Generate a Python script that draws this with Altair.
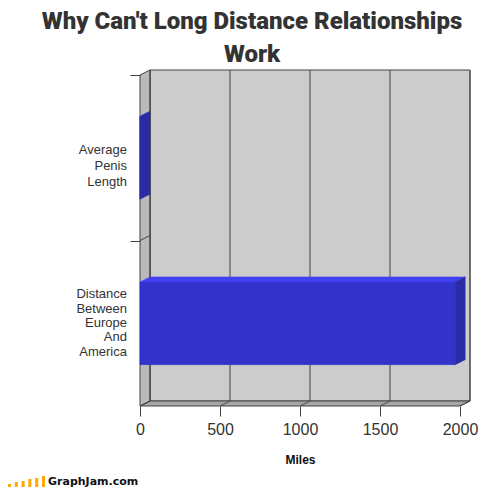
import altair as alt
import pandas as pd

# ---------------- data ----------------
categories = ["Average Penis Length", "Distance Between Europe And America"]
miles = [0.0001, 1970]
tick_values = [0, 500, 1000, 1500, 2000]
chart_title = ["Why Can't Long Distance Relationships", "Work"]
x_title = "Miles"
logo_text = "GraphJam.com"
logo_heights = [3, 5, 6, 8, 9, 11]

# ---------------- geometry / style ----------------
FRONT_W = 320          # px of the front plane for the axis range
BAND_PX = 165.5        # px per category band
DEPTH_X = 10           # px of 3-D depth, horizontal
DEPTH_Y = 5            # px of 3-D depth, vertical
AX_MAX = tick_values[-1]
MPP = AX_MAX / FRONT_W             # miles per px
S = DEPTH_X * MPP                  # depth in miles
D = DEPTH_Y / BAND_PX              # depth in band units
NB = len(categories)
W = FRONT_W + DEPTH_X
H = NB * BAND_PX + DEPTH_Y
PAD = {"left": 132, "top": 62, "right": 20, "bottom": 82}
LOGO_BASE = H + PAD["bottom"] - 3   # px below plot top

xs = alt.Scale(domain=[0, AX_MAX + S], nice=False, zero=False)
ys = alt.Scale(domain=[0, NB + D], nice=False, zero=False)


def envelope(poly):
    """lower / upper edge of a convex polygon at each vertex x."""
    out = []
    n = len(poly)
    for x in sorted(set(p[0] for p in poly)):
        yv = []
        for i in range(n):
            (x1, y1), (x2, y2) = poly[i], poly[(i + 1) % n]
            if min(x1, x2) - 1e-9 <= x <= max(x1, x2) + 1e-9:
                if abs(x2 - x1) < 1e-12:
                    yv += [y1, y2]
                else:
                    yv.append(y1 + (y2 - y1) * (x - x1) / (x2 - x1))
        out.append((x, min(yv), max(yv)))
    return out


def poly_rows(pid, fill, poly):
    return [{"id": pid, "fill": fill, "x": x, "lo": lo, "hi": hi}
            for x, lo, hi in envelope(poly)]


# walls
wall_rows = []
wall_rows += poly_rows("a_back", "#cccccc",
                       [(S, D), (AX_MAX + S, D), (AX_MAX + S, NB + D), (S, NB + D)])
wall_rows += poly_rows("b_floor", "#a6a6a6",
                       [(0, 0), (AX_MAX, 0), (AX_MAX + S, D), (S, D)])
wall_rows += poly_rows("c_side", "#bababa",
                       [(0, 0), (S, D), (S, NB + D), (0, NB)])
walls_df = pd.DataFrame(wall_rows)

# bars (3-D faces)
bar_rows = []
label_rows = []
for i, (cat, v) in enumerate(zip(categories, miles)):
    c = (NB - 1 - i) + 0.5
    b, t = c - 0.25, c + 0.25
    bar_rows += poly_rows(f"{i}_front", "#3333cc", [(0, b), (v, b), (v, t), (0, t)])
    bar_rows += poly_rows(f"{i}_top", "#4141f2", [(0, t), (v, t), (v + S, t + D), (S, t + D)])
    bar_rows += poly_rows(f"{i}_side", "#2b2ba3", [(v, b), (v, t), (v + S, t + D), (v + S, b + D)])
    label_rows.append({"cat": cat, "x": 0, "y": c})
bars_df = pd.DataFrame(bar_rows)
labels_df = pd.DataFrame(label_rows)

# grid lines: back wall verticals, floor diagonals, side wall band separators
grid_rows = []
for tv in tick_values:
    grid_rows.append({"x": tv + S, "x2": tv + S, "y": D, "y2": NB + D})
    grid_rows.append({"x": tv, "x2": tv + S, "y": 0, "y2": D})
for k in range(1, NB):
    grid_rows.append({"x": 0, "x2": S, "y": k, "y2": k + D})
grid_df = pd.DataFrame(grid_rows)

x_axis = alt.Axis(values=tick_values, format="d", tickSize=10, tickColor="#444444",
                  tickWidth=1, domain=False, grid=False, labelFontSize=16,
                  labelColor="#333333", labelFont="Liberation Sans", labelPadding=5,
                  labelFlush=False, labelOverlap=False,
                  title=x_title, titleFontSize=12, titleFont="Liberation Sans",
                  titleFontWeight="bold", titleColor="#111111", titlePadding=17,
                  titleX=FRONT_W / 2, zindex=1)
y_axis = alt.Axis(values=list(range(1, NB + 1)), labels=False, tickSize=10,
                  tickColor="#444444", tickWidth=1, domain=False, grid=False,
                  title="", zindex=1)


def X(field):
    return alt.X(field, scale=xs, axis=x_axis, title=x_title)


def Y(field, **kw):
    return alt.Y(field, scale=ys, axis=y_axis, title="", **kw)


walls = alt.Chart(walls_df).mark_area(stroke="#444444", strokeWidth=1).encode(
    x=X("x:Q"),
    y=Y("lo:Q", stack=None),
    y2="hi:Q",
    fill=alt.Fill("fill:N", scale=None),
    detail="id:N",
)

grid = alt.Chart(grid_df).mark_rule(color="#444444", strokeWidth=1).encode(
    x=X("x:Q"),
    x2="x2:Q",
    y=Y("y:Q"),
    y2="y2:Q",
)

bars = alt.Chart(bars_df).mark_area(strokeWidth=0.5).encode(
    x=X("x:Q"),
    y=Y("lo:Q", stack=None),
    y2="hi:Q",
    fill=alt.Fill("fill:N", scale=None),
    stroke=alt.Stroke("fill:N", scale=None),
    detail="id:N",
)


def label_layer(cat, line_h, dy):
    return alt.Chart(labels_df).transform_filter(
        alt.datum.cat == cat
    ).mark_text(align="right", baseline="middle", dx=-13, dy=dy, lineBreak=" ",
                lineHeight=line_h, fontSize=13, font="Liberation Sans",
                color="#333333").encode(
        x=X("x:Q"),
        y=Y("y:Q"),
        text="cat:N",
    )


lab1 = label_layer(categories[0], 16.3, -8)
lab2 = label_layer(categories[1], 14.4, -29)

logo_layers = []
for i, h in enumerate(logo_heights):
    logo_layers.append(
        alt.Chart(pd.DataFrame({"h": [h]})).mark_rule(color="#ffa800", strokeWidth=3).encode(
            x=alt.value(-130.5 + i * 6.8),
            y=alt.value(LOGO_BASE + 2 - h),
            y2=alt.value(LOGO_BASE + 2),
        )
    )
logo = alt.Chart(pd.DataFrame({"t": [logo_text]})).mark_text(
    align="left", baseline="alphabetic", font="DejaVu Sans", fontWeight="bold",
    fontSize=11, color="#111111"
).encode(x=alt.value(-92), y=alt.value(LOGO_BASE), text="t:N")

chart = alt.layer(walls, grid, bars, lab1, lab2, *logo_layers, logo).properties(
    width=W, height=H,
    title=alt.TitleParams(
        text=chart_title,
        font="Roboto", fontSize=24, fontWeight=900, color="#333333",
        anchor="middle", frame="group", dx=-53, baseline="bottom",
        offset=-23, lineHeight=33,
    ),
    autosize=alt.AutoSizeParams(type="none"),
    padding=PAD,
).configure_view(strokeWidth=0)

chart.save("out.html", embed_options={"renderer": "svg", "actions": False})
